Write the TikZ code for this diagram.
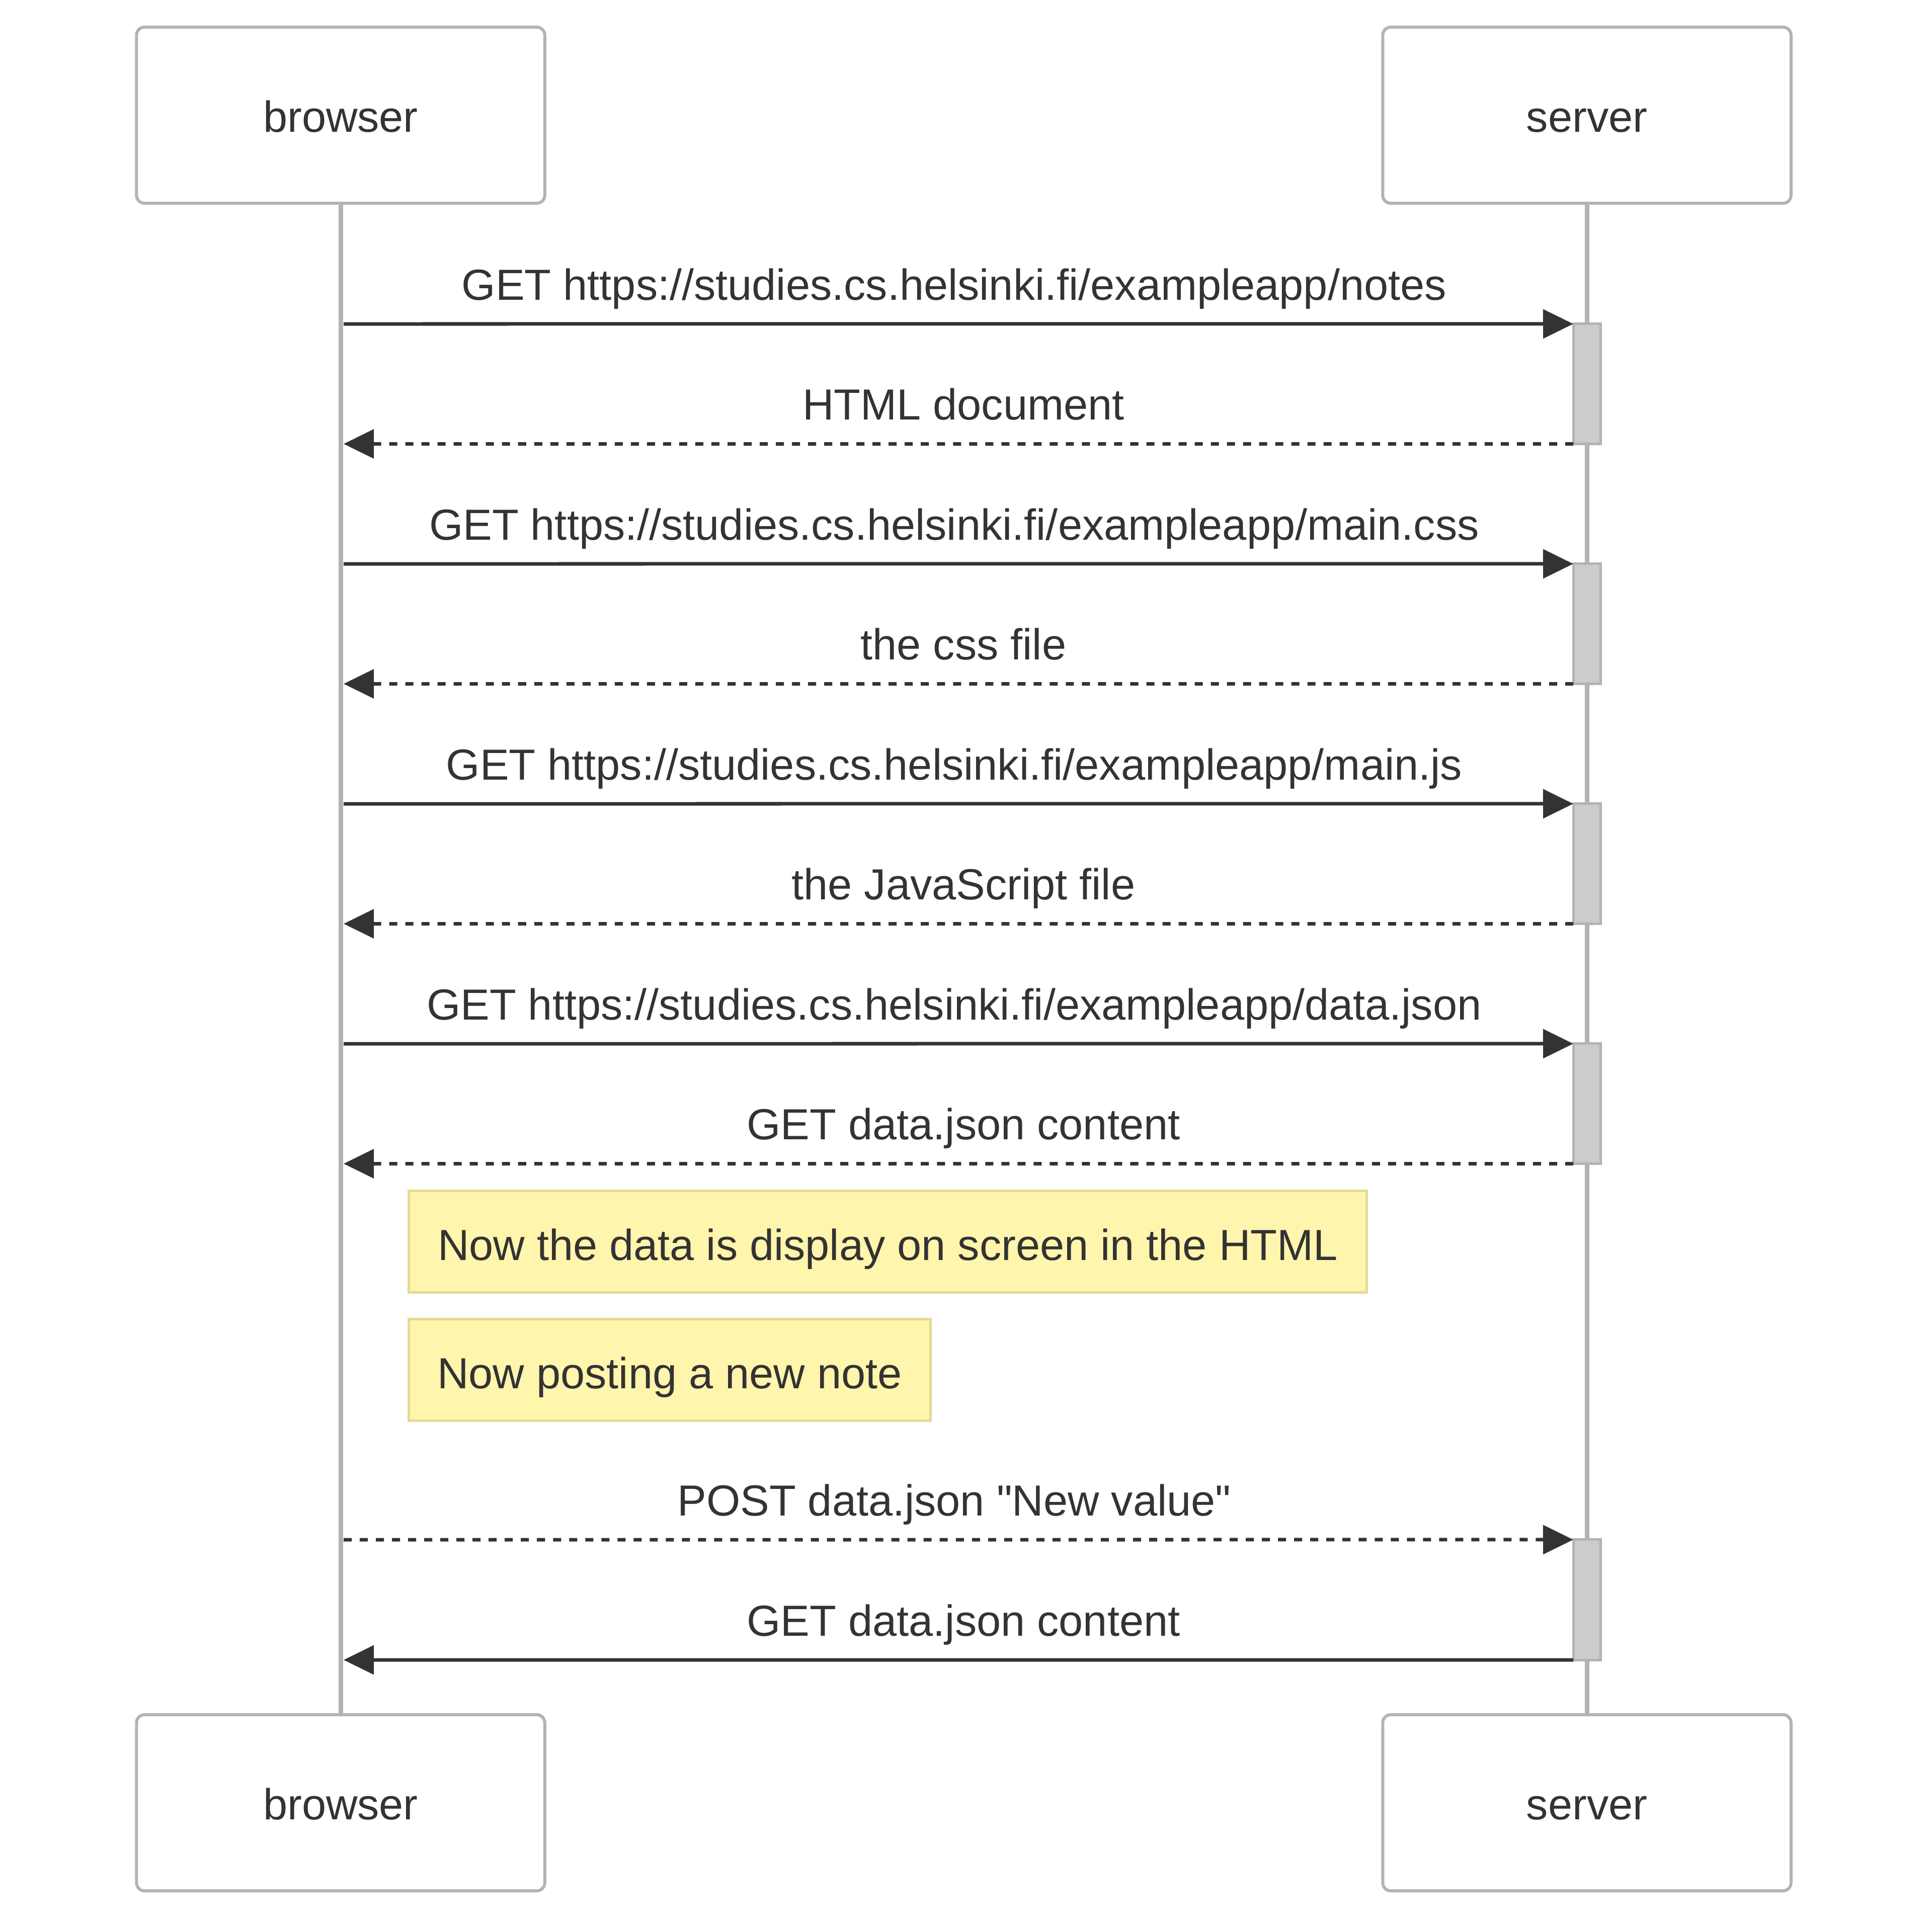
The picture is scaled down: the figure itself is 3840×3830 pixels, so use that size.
\documentclass[tikz,border=0pt]{standalone}
\usepackage{fontspec}
\setmainfont{Liberation Sans}
\usetikzlibrary{arrows.meta}
\definecolor{ink}{HTML}{333333}
\definecolor{lifegray}{HTML}{B3B3B3}
\definecolor{actfill}{HTML}{CCCCCC}
\definecolor{notefill}{HTML}{FFF5AD}
\definecolor{noteline}{HTML}{E3DB96}
\tikzset{
  basefont/.style={text=ink, font=\fontsize{24.6}{29}\selectfont},
  actor/.style={basefont, draw=lifegray, line width=0.06cm, rounded corners=0.16cm, fill=white,
    minimum width=8.11cm, minimum height=3.5cm, inner sep=0pt, outer sep=0pt,
    text height=0.69cm, text depth=0.03cm},
  lifeline/.style={draw=lifegray, line width=0.09cm},
  actbox/.style={draw=lifegray, fill=actfill, line width=0.05cm, minimum width=0.54cm,
    inner sep=0pt, outer sep=0pt},
  msg/.style={draw=ink, line width=0.07cm, -{Triangle[length=0.6cm, width=0.57cm]}},
  reply/.style={msg, dash pattern=on 0.16cm off 0.16cm},
  lbl/.style={basefont, midway, yshift=0.696cm, inner sep=0pt,
    text height=0.65cm, text depth=0.216cm},
  replbl/.style={lbl, xshift=0.1cm},
  reqlbl/.style={lbl, xshift=-0.086cm},
  note/.style={basefont, draw=noteline, fill=notefill, line width=0.05cm, minimum height=2.01cm,
    inner sep=0pt, text height=0.73cm, text depth=0cm}
}
\begin{document}
\begin{tikzpicture}[x=0.01cm, y=-0.01cm]
\useasboundingbox (0,0) rectangle (3840,3830);

% participants, top and bottom
\node[actor] (bt) at (677,229) {browser};
\node[actor] (st) at (3154,229) {server};
\node[actor] (bb) at (677,3584) {browser};
\node[actor] (sb) at (3154,3584) {server};

% lifelines
\draw[lifeline] (bt.south) -- (bb.north);
\draw[lifeline] (st.south) -- (sb.north);

% activation bars on the server
\node[actbox, minimum height=2.385cm] (a1) at (3154,763.25) {};
\node[actbox, minimum height=2.385cm] (a2) at (3154,1240.25) {};
\node[actbox, minimum height=2.385cm] (a3) at (3154,1717.25) {};
\node[actbox, minimum height=2.385cm] (a4) at (3154,2194.25) {};
\node[actbox, minimum height=2.39cm] (a5) at (3154,3180.5) {};

% browser ends of the messages
\coordinate (m1) at (683,644);
\coordinate (m2) at (683,882.5);
\coordinate (m3) at (683,1121);
\coordinate (m4) at (683,1359.5);
\coordinate (m5) at (683,1598);
\coordinate (m6) at (683,1836.5);
\coordinate (m7) at (683,2075);
\coordinate (m8) at (683,2313.5);
\coordinate (m9) at (683,3061);
\coordinate (m10) at (683,3300);

% messages
\draw[msg] (m1) -- node[reqlbl] {GET https://studies.cs.helsinki.fi/exampleapp/notes} (a1.north west);
\draw[reply] (a1.south west) -- node[replbl] {HTML document} (m2);
\draw[msg] (m3) -- node[reqlbl] {GET https://studies.cs.helsinki.fi/exampleapp/main.css} (a2.north west);
\draw[reply] (a2.south west) -- node[replbl] {the css file} (m4);
\draw[msg] (m5) -- node[reqlbl] {GET https://studies.cs.helsinki.fi/exampleapp/main.js} (a3.north west);
\draw[reply] (a3.south west) -- node[replbl] {the JavaScript file} (m6);
\draw[msg] (m7) -- node[reqlbl] {GET https://studies.cs.helsinki.fi/exampleapp/data.json} (a4.north west);
\draw[reply] (a4.south west) -- node[replbl] {GET data.json content} (m8);

% notes
\node[note, minimum width=19.03cm] (n1) at (1764.5,2468.5) {Now the data is display on screen in the HTML};
\node[note, minimum width=10.36cm] (n2) at (1331,2723.5) {Now posting a new note};

\draw[reply] (m9) -- node[reqlbl] {POST data.json \textquotedbl New value\textquotedbl} (a5.north west);
\draw[msg] (a5.south west) -- node[replbl] {GET data.json content} (m10);
\end{tikzpicture}
\end{document}
